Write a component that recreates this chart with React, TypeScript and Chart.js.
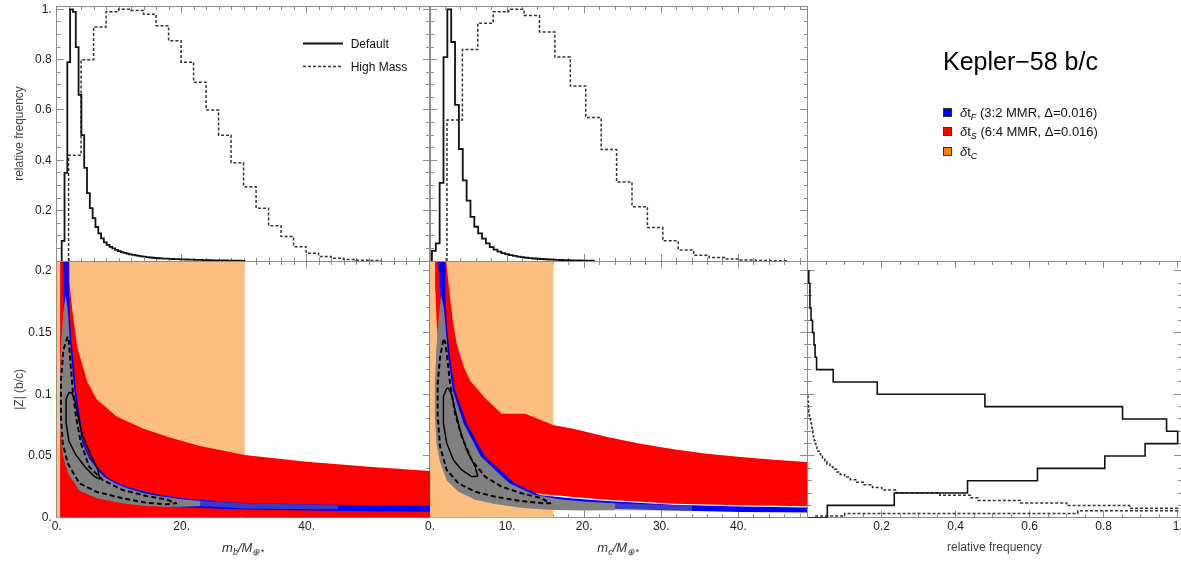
import React, { useEffect, useRef } from 'react';
import { Chart, registerables } from 'chart.js';

Chart.register(...registerables);

type Pair = [number, number];
type Rect = { l: number; t: number; r: number; b: number };

const FONT = "'Liberation Sans', Arial, Helvetica, sans-serif";
const FRAME = '#8c8c8c';
const PAGE_W = 1181;
const PAGE_H = 564;
const ORANGE = 'rgb(253,191,128)';
const RED = '#ff0000';
const BLUE = '#0000ff';
const GRAY = '#808080';
const GRAY_HALO = 'rgba(128,128,128,0.45)';
const MAJOR_TICK = 7;
const MINOR_TICK = 4;

// ---------------- tick labels ----------------
const massBTickLabels = [0, 20, 40];
const massCTickLabels = [0, 10, 20, 30, 40];
const freqTickLabels = [0.2, 0.4, 0.6, 0.8, 1];
const zTickLabels = [0, 0.05, 0.1, 0.15, 0.2];

// ---------------- top-left: m_b histograms ----------------
const defaultMbBinStart = 0.8;
const defaultMbBinWidth = 0.45;
const defaultMbFreq = [0.08, 0.35, 0.79, 1.0, 0.99, 0.85, 0.66, 0.5, 0.37, 0.27, 0.21, 0.17, 0.135, 0.11, 0.09, 0.074, 0.064, 0.056, 0.05, 0.044, 0.039, 0.035, 0.032, 0.029, 0.026, 0.024, 0.022, 0.02, 0.018, 0.017, 0.015, 0.014, 0.013, 0.012, 0.011, 0.0105, 0.0098, 0.0092, 0.0086, 0.008, 0.0076, 0.0072, 0.0068, 0.0064, 0.006, 0.0056, 0.0052, 0.0048, 0.0044, 0.0041, 0.0038, 0.0035, 0.0032, 0.003, 0.0027, 0.0025, 0.0023, 0.0021, 0.0019, 0.0017, 0.0015, 0.0013, 0.0011, 0.001, 0.0008];
const highMassMbBinStart = 1.9;
const highMassMbBinWidth = 2;
const highMassMbFreq = [0.42, 0.8, 0.93, 0.99, 1.0, 0.995, 0.98, 0.935, 0.875, 0.79, 0.71, 0.6, 0.5, 0.39, 0.295, 0.21, 0.14, 0.097, 0.057, 0.031, 0.018, 0.011, 0.006, 0.003, 0.0015];

// ---------------- top-middle: m_c histograms ----------------
const defaultMcBinStart = 0.25;
const defaultMcBinWidth = 0.5;
const defaultMcFreq = [0.04, 0.07, 0.31, 0.81, 1.0, 0.87, 0.62, 0.445, 0.32, 0.24, 0.175, 0.136, 0.11, 0.089, 0.07, 0.055, 0.045, 0.037, 0.031, 0.027, 0.023, 0.02, 0.017, 0.015, 0.013, 0.0115, 0.01, 0.009, 0.008, 0.007, 0.006, 0.0052, 0.0045, 0.004, 0.0035, 0.003, 0.0026, 0.0022, 0.0019, 0.0016, 0.0013, 0.001];
const highMassMcBinStart = 2.2;
const highMassMcBinWidth = 2;
const highMassMcFreq = [0.56, 0.84, 0.945, 0.99, 1.0, 0.975, 0.91, 0.81, 0.695, 0.57, 0.443, 0.314, 0.216, 0.133, 0.08, 0.044, 0.023, 0.014, 0.008, 0.004, 0.002, 0.001];

// ---------------- bottom-right: |Z| histograms ----------------
const defaultZBinStart = 0;
const defaultZBinWidth = 0.01;
const defaultZFreq = [0.053, 0.234, 0.432, 0.621, 0.803, 0.912, 1.0, 0.97, 0.851, 0.479, 0.188, 0.069, 0.024, 0.02, 0.017, 0.013, 0.009, 0.006, 0.006, 0.003];
const highMassZBinStart = -0.0007;
const highMassZBinWidth = 0.0021;
const highMassZFreq = [0.02, 0.1, 0.73, 1.0, 0.87, 0.7, 0.575, 0.46, 0.44, 0.357, 0.24, 0.2, 0.175, 0.15, 0.13, 0.115, 0.1, 0.088, 0.078, 0.068, 0.06, 0.052, 0.046, 0.04, 0.035, 0.031, 0.028, 0.025, 0.022, 0.02, 0.018, 0.016, 0.015, 0.014, 0.012, 0.011, 0.01, 0.008, 0.007, 0.005, 0.004, 0.003, 0.0025, 0.002, 0.0015, 0.001, 0.0007, 0.0004];

// ---------------- bottom-left regions (m_b, |Z|) ----------------
const orangeBRegion: Pair[] = [[0, 0], [0, 0.25], [30.1, 0.25], [30.1, 0]];
const redBRegion: Pair[] = [[0.55, 0], [0.55, 0.25], [2.0, 0.25], [2.0, 0.208], [2.1, 0.19], [2.5, 0.168], [3.3, 0.138], [4.9, 0.11], [6.4, 0.096], [9.6, 0.082], [13.9, 0.072], [18.1, 0.065], [22.9, 0.058], [30.1, 0.0508], [40, 0.0454], [50, 0.0413], [60, 0.0378], [62, 0.037], [62, 0]];
const blueBRegion: Pair[] = [[1.9, 0.25], [1.9, 0.208], [1.95, 0.184], [2.3, 0.147], [3.1, 0.1035], [3.6, 0.085], [4.4, 0.0603], [5.5, 0.048], [6.8, 0.0396], [8, 0.033], [10, 0.0275], [12, 0.024], [14.3, 0.021], [16, 0.019], [20, 0.016], [29, 0.0122], [40, 0.0108], [50, 0.01], [62, 0.0095], [62, 0.0048], [50, 0.0053], [40, 0.0058], [28, 0.0068], [20, 0.0085], [16, 0.01], [12, 0.013], [9, 0.017], [6.5, 0.024], [4.5, 0.034], [3.2, 0.047], [2.3, 0.068], [1.7, 0.1], [1.3, 0.14], [1.05, 0.184], [1.0, 0.208], [1.0, 0.25]];
const grayBCore: Pair[] = [[1.45, 0.18], [1.75, 0.17], [2.05, 0.147], [2.8, 0.1035], [3.3, 0.085], [4.1, 0.0603], [5.2, 0.048], [6.4, 0.0396], [7.6, 0.033], [9.5, 0.0275], [11.5, 0.0235], [14, 0.0198], [16, 0.0178], [20, 0.015], [23, 0.0135], [23, 0.0095], [20, 0.0088], [17.5, 0.0088], [14.3, 0.0095], [10.6, 0.0115], [6.3, 0.016], [3.6, 0.022], [1.8, 0.036], [1.0, 0.05], [0.6, 0.068], [0.5, 0.09], [0.55, 0.115], [0.72, 0.14], [0.95, 0.16], [1.2, 0.173]];
const grayBHalo: Pair[] = [[23, 0.0135], [30, 0.0118], [38, 0.0108], [45, 0.0102], [45, 0.0068], [38, 0.007], [30, 0.0074], [23, 0.0095]];
const contour1B: Pair[] = [[1.95, 0.1015], [1.5, 0.096], [1.5, 0.077], [1.95, 0.062], [3.0, 0.0515], [4.5, 0.0413], [6.0, 0.0335], [6.9, 0.0313], [6.6, 0.039], [5.4, 0.0515], [4.1, 0.067], [3.3, 0.085], [2.8, 0.0975], [2.4, 0.1012]];
const contour2B: Pair[] = [[1.76, 0.1467], [1.06, 0.136], [0.69, 0.1116], [0.69, 0.0818], [0.96, 0.0603], [1.76, 0.0441], [3.62, 0.0279], [6.29, 0.0211], [10.6, 0.0157], [14.3, 0.0122], [17.5, 0.0108], [19.1, 0.0117], [17.5, 0.0149], [14.3, 0.0176], [10.6, 0.0224], [7.36, 0.0305], [5.2, 0.0413], [3.89, 0.0603], [3.09, 0.0818], [2.56, 0.1035], [2.13, 0.1305], [1.92, 0.144]];

// ---------------- bottom-middle regions (m_c, |Z|) ----------------
const orangeCRegion: Pair[] = [[-1, 0], [-1, 0.25], [16.0, 0.25], [16.0, 0]];
const redCRegion: Pair[] = [[0.66, 0.25], [2.1, 0.25], [2.1, 0.208], [2.5, 0.184], [3.0, 0.158], [3.5, 0.14], [4.4, 0.122], [5.2, 0.111], [7.3, 0.096], [9.3, 0.0842], [12.35, 0.0842], [16.05, 0.0749], [18.6, 0.0721], [23, 0.0654], [27.3, 0.06], [31.6, 0.0554], [35.9, 0.0519], [40.3, 0.0492], [44.6, 0.047], [48.9, 0.0451], [50, 0.0447], [50, 0.0091], [48.9, 0.0092], [40.3, 0.0101], [31.6, 0.0113], [23, 0.0146], [18.6, 0.0168], [14.3, 0.0195], [11, 0.023], [8, 0.028], [5, 0.04], [3, 0.06], [1.8, 0.09], [1.1, 0.135], [0.87, 0.1575], [0.7, 0.184], [0.66, 0.208]];
const blueCRegion: Pair[] = [[2.0, 0.25], [2.0, 0.208], [2.0, 0.184], [2.16, 0.1575], [2.6, 0.1305], [3.25, 0.1035], [4.76, 0.0765], [7.14, 0.0495], [11, 0.0279], [14.3, 0.0181], [18.6, 0.0155], [23, 0.0135], [31.6, 0.0104], [40.3, 0.0091], [48.9, 0.0082], [50, 0.0081], [50, 0.0041], [40.3, 0.0047], [31.6, 0.0058], [23, 0.0073], [16, 0.0095], [11, 0.013], [7.14, 0.02], [4.76, 0.03], [3.25, 0.045], [2.6, 0.065], [2.2, 0.1], [1.96, 0.1305], [1.61, 0.1575], [1.31, 0.184], [1.05, 0.208], [1.05, 0.25]];
const grayCCore: Pair[] = [[1.45, 0.18], [1.8, 0.17], [1.95, 0.16], [2.35, 0.1305], [2.95, 0.1035], [4.35, 0.0765], [6.6, 0.0495], [10.3, 0.0279], [13.5, 0.0185], [17, 0.0148], [20, 0.0132], [24, 0.0117], [24, 0.006], [20, 0.0058], [16, 0.0062], [12, 0.0078], [8.4, 0.011], [5.85, 0.0145], [3.7, 0.021], [2.2, 0.03], [1.3, 0.045], [0.85, 0.06], [0.65, 0.08], [0.65, 0.11], [0.8, 0.135], [1.05, 0.155], [1.25, 0.17]];
const grayCHalo: Pair[] = [[24, 0.0117], [30, 0.0105], [34, 0.0098], [34, 0.0055], [30, 0.0056], [24, 0.006]];
const contour1C: Pair[] = [[2.17, 0.1049], [1.74, 0.098], [1.74, 0.0765], [2.17, 0.0603], [3.04, 0.0468], [4.11, 0.0387], [5.41, 0.0332], [6.19, 0.0338], [5.85, 0.0413], [4.76, 0.0549], [3.9, 0.0711], [3.26, 0.0873], [2.74, 0.1008], [2.39, 0.1049]];
const contour2C: Pair[] = [[1.74, 0.144], [1.31, 0.1305], [1.0, 0.109], [1.0, 0.0818], [1.31, 0.0575], [2.17, 0.0387], [3.68, 0.0279], [5.85, 0.0211], [8.44, 0.017], [11.5, 0.0138], [14.5, 0.0117], [15.6, 0.0117], [14.5, 0.0157], [11.9, 0.0198], [9.3, 0.0251], [7.14, 0.0332], [5.41, 0.0468], [4.11, 0.0656], [3.25, 0.0846], [2.6, 0.109], [2.17, 0.1332], [1.96, 0.1426]];

// ---------------- helpers ----------------
function tickValues(min: number, max: number, step: number): number[] {
  const out: number[] = [];
  const k0 = Math.ceil(min / step - 1e-9);
  const k1 = Math.floor(max / step + 1e-9);
  for (let k = k0; k <= k1; k++) out.push(Number((k * step).toFixed(6)));
  return out;
}

function fmt(v: number): string {
  const r = Math.round(v * 1000) / 1000;
  return Number.isInteger(r) ? `${r}.` : String(r);
}

function stepV(start: number, width: number, freq: number[]): Pair[] {
  const pts: Pair[] = [[start, 0]];
  freq.forEach((f, i) => {
    pts.push([start + i * width, f], [start + (i + 1) * width, f]);
  });
  pts.push([start + freq.length * width, 0]);
  return pts;
}

function stepH(start: number, width: number, freq: number[]): Pair[] {
  const pts: Pair[] = [[0, start]];
  freq.forEach((f, i) => {
    pts.push([f, start + i * width], [f, start + (i + 1) * width]);
  });
  pts.push([0, start + freq.length * width]);
  return pts;
}

const toXY = (pts: Pair[]) => pts.map(([x, y]) => ({ x, y }));

function region(pts: Pair[], color: string, order: number) {
  return {
    data: toXY([...pts, pts[0]]),
    backgroundColor: color,
    borderColor: 'rgba(0,0,0,0)',
    borderWidth: 0,
    fill: 'shape',
    order,
    pointRadius: 0,
  };
}

function stroke(pts: Pair[], color: string, width: number, dash: number[], order: number, closed = false) {
  return {
    data: toXY(closed ? [...pts, pts[0]] : pts),
    borderColor: color,
    backgroundColor: 'rgba(0,0,0,0)',
    borderWidth: width,
    borderDash: dash,
    fill: false,
    order,
    pointRadius: 0,
    borderJoinStyle: closed ? 'round' : 'miter',
    borderCapStyle: 'butt',
  };
}

interface AxisSpec { min: number; max: number; step: number; labels: number[]; title?: string }
interface PanelSpec { key: string; rect: Rect; x: AxisSpec; y: AxisSpec; labelX: boolean; labelY: boolean; datasets: any[] }

function scale(position: string, spec: AxisSpec, size: number, showLabels: boolean) {
  const horizontal = position === 'top' || position === 'bottom';
  const values = tickValues(spec.min, spec.max, spec.step);
  const isMajor = (v: number) => spec.labels.some((l) => Math.abs(l - v) < 1e-9);
  const hasTitle = showLabels && !!spec.title;
  // tick marks are drawn from the inner end for left/top axes, from the frame for right/bottom axes
  const startsInside = position === 'left' || position === 'top';
  return {
    type: 'linear',
    position,
    min: spec.min,
    max: spec.max,
    afterBuildTicks: (axis: any) => {
      axis.ticks = values.map((v) => ({ value: v }));
    },
    afterFit: (axis: any) => {
      if (horizontal) axis.height = size; else axis.width = size;
      axis.paddingLeft = 0;
      axis.paddingRight = 0;
      axis.paddingTop = 0;
      axis.paddingBottom = 0;
    },
    grid: {
      drawOnChartArea: false,
      drawTicks: true,
      tickLength: -MAJOR_TICK,
      color: FRAME,
      lineWidth: 1,
      tickBorderDash: (ctx: any) => (ctx.tick && isMajor(ctx.tick.value) ? [] : [MINOR_TICK, 20]),
      tickBorderDashOffset: (ctx: any) =>
        ctx.tick && isMajor(ctx.tick.value) ? 0 : startsInside ? MINOR_TICK + 20 - (MAJOR_TICK - MINOR_TICK) : 0,
    },
    border: { display: true, color: FRAME, width: 1 },
    ticks: {
      display: showLabels,
      autoSkip: false,
      maxRotation: 0,
      minRotation: 0,
      padding: horizontal ? 9 : 12,
      color: '#1a1a1a',
      font: { family: FONT, size: 12 },
      callback: (v: number) => (showLabels && isMajor(v) ? fmt(v) : ''),
    },
    title: hasTitle
      ? {
          display: true,
          text: spec.title,
          color: '#444',
          font: { family: FONT, size: 12 },
          padding: horizontal ? { top: 0, bottom: 9 } : { top: 12, bottom: 0 },
        }
      : { display: false },
  };
}

function buildConfig(p: PanelSpec): any {
  const { l, t, r, b } = p.rect;
  const leftW = p.labelY ? l : 0;
  const bottomH = p.labelX ? PAGE_H - b : 0;
  return {
    type: 'line',
    data: { datasets: p.datasets },
    options: {
      responsive: false,
      animation: false,
      devicePixelRatio: 1,
      events: [],
      layout: { padding: { left: l - leftW, top: t, right: PAGE_W - r, bottom: PAGE_H - b - bottomH } },
      plugins: { legend: { display: false }, title: { display: false }, tooltip: { enabled: false } },
      elements: { point: { radius: 0, hitRadius: 0, hoverRadius: 0 }, line: { tension: 0 } },
      scales: {
        x: scale('bottom', p.x, bottomH, p.labelX),
        x2: scale('top', p.x, 0, false),
        y: scale('left', p.y, leftW, p.labelY),
        y2: scale('right', p.y, 0, false),
      },
    },
  };
}

const massBAxis: AxisSpec = { min: 0, max: 59.73, step: 2, labels: massBTickLabels };
const massCAxis: AxisSpec = { min: 0, max: 48.9, step: 2, labels: massCTickLabels };
const freqTopAxis: AxisSpec = { min: 0, max: 1.0131, step: 0.05, labels: freqTickLabels, title: 'relative frequency' };
const zAxis: AxisSpec = { min: 0, max: 0.208, step: 0.01, labels: zTickLabels, title: '|Z| (b/c)' };
const freqRightAxis: AxisSpec = { min: 0, max: 1.009, step: 0.05, labels: freqTickLabels, title: 'relative frequency' };

const PANELS: PanelSpec[] = [
  {
    key: 'bl', rect: { l: 56.7, t: 261, r: 430, b: 517.7 }, x: massBAxis, y: zAxis, labelX: true, labelY: true,
    datasets: [
      stroke(contour2B, '#000', 2, [5, 3], 0, true),
      stroke(contour1B, '#000', 1.5, [], 0, true),
      region(grayBCore, GRAY, 1),
      region(grayBHalo, GRAY_HALO, 2),
      region(blueBRegion, BLUE, 3),
      region(redBRegion, RED, 4),
      region(orangeBRegion, ORANGE, 5),
    ],
  },
  {
    key: 'bm', rect: { l: 430, t: 261, r: 807, b: 517.7 }, x: massCAxis, y: zAxis, labelX: true, labelY: false,
    datasets: [
      stroke(contour2C, '#000', 2, [5, 3], 0, true),
      stroke(contour1C, '#000', 1.5, [], 0, true),
      region(grayCCore, GRAY, 1),
      region(grayCHalo, GRAY_HALO, 2),
      region(blueCRegion, BLUE, 3),
      region(redCRegion, RED, 4),
      region(orangeCRegion, ORANGE, 5),
    ],
  },
  {
    key: 'br', rect: { l: 807.7, t: 261, r: 1181, b: 517.7 }, x: freqRightAxis, y: zAxis, labelX: true, labelY: false,
    datasets: [
      stroke(stepH(defaultZBinStart, defaultZBinWidth, defaultZFreq), '#111', 1.6, [], 0),
      stroke(stepH(highMassZBinStart, highMassZBinWidth, highMassZFreq), '#333', 1.5, [3, 2], 1),
    ],
  },
  {
    key: 'tl', rect: { l: 56.7, t: 6, r: 430, b: 261 }, x: massBAxis, y: freqTopAxis, labelX: false, labelY: true,
    datasets: [
      stroke(stepV(defaultMbBinStart, defaultMbBinWidth, defaultMbFreq), '#111', 1.8, [], 0),
      stroke(stepV(highMassMbBinStart, highMassMbBinWidth, highMassMbFreq), '#333', 1.5, [3, 2], 1),
    ],
  },
  {
    key: 'tm', rect: { l: 430, t: 6, r: 807, b: 261 }, x: massCAxis, y: freqTopAxis, labelX: false, labelY: false,
    datasets: [
      stroke(stepV(defaultMcBinStart, defaultMcBinWidth, defaultMcFreq), '#111', 1.8, [], 0),
      stroke(stepV(highMassMcBinStart, highMassMcBinWidth, highMassMcFreq), '#333', 1.5, [3, 2], 1),
    ],
  },
];

const legendRows = [
  { color: '#0000ff', sub: 'F', rest: ' (3:2 MMR, Δ=0.016)' },
  { color: '#ff0000', sub: 'S', rest: ' (6:4 MMR, Δ=0.016)' },
  { color: '#ff8000', sub: 'C', rest: '' },
];

const subStyle: React.CSSProperties = { fontSize: 9, verticalAlign: '-3px', lineHeight: 0 };

export default function App() {
  const canvasRefs = useRef<(HTMLCanvasElement | null)[]>([]);

  useEffect(() => {
    document.body.style.margin = '0';
    const charts = PANELS.map((p, i) => new Chart(canvasRefs.current[i] as HTMLCanvasElement, buildConfig(p)));
    return () => charts.forEach((c) => c.destroy());
  }, []);

  return (
    <div style={{ position: 'relative', width: PAGE_W, height: PAGE_H, overflow: 'hidden', background: '#fff', fontFamily: FONT }}>
      {PANELS.map((p, i) => (
        <canvas
          key={p.key}
          ref={(el) => { canvasRefs.current[i] = el; }}
          width={PAGE_W}
          height={PAGE_H}
          style={{ position: 'absolute', left: 0, top: 0 }}
        />
      ))}

      {/* top-left legend */}
      <svg width={PAGE_W} height={PAGE_H} style={{ position: 'absolute', left: 0, top: 0, pointerEvents: 'none' }}>
        <line x1={303} y1={43.5} x2={343} y2={43.5} stroke="#111" strokeWidth={1.8} />
        <line x1={303} y1={66.5} x2={343} y2={66.5} stroke="#333" strokeWidth={1.5} strokeDasharray="3 2" />
      </svg>
      <div style={{ position: 'absolute', left: 350.7, top: 37, font: `12px ${FONT}`, lineHeight: '14px', color: '#111', whiteSpace: 'nowrap' }}>Default</div>
      <div style={{ position: 'absolute', left: 350.7, top: 59.7, font: `12px ${FONT}`, lineHeight: '14px', color: '#111', whiteSpace: 'nowrap' }}>High Mass</div>

      {/* x axis titles of mass panels */}
      <div style={{ position: 'absolute', left: 143, width: 200, top: 540, textAlign: 'center', font: `italic 13px ${FONT}`, lineHeight: '16px', color: '#333' }}>
        m<sub style={subStyle}>b</sub>/M<sub style={subStyle}>⊕*</sub>
      </div>
      <div style={{ position: 'absolute', left: 518, width: 200, top: 540, textAlign: 'center', font: `italic 13px ${FONT}`, lineHeight: '16px', color: '#333' }}>
        m<sub style={subStyle}>c</sub>/M<sub style={subStyle}>⊕*</sub>
      </div>

      {/* title and region legend */}
      <div style={{ position: 'absolute', left: 943, top: 45.5, font: `25px ${FONT}`, lineHeight: '30px', color: '#000', whiteSpace: 'nowrap' }}>Kepler−58 b/c</div>
      {legendRows.map((row, i) => (
        <React.Fragment key={row.sub}>
          <div style={{ position: 'absolute', left: 943, top: 107.7 + i * 19.5, width: 7, height: 7, background: row.color, border: '1px solid #333' }} />
          <div style={{ position: 'absolute', left: 960, top: 104.7 + i * 19.5, font: `13px ${FONT}`, lineHeight: '15px', color: '#111', whiteSpace: 'nowrap' }}>
            <i>δ</i>t<sub style={subStyle}><i>{row.sub}</i></sub>{row.rest}
          </div>
        </React.Fragment>
      ))}
    </div>
  );
}
